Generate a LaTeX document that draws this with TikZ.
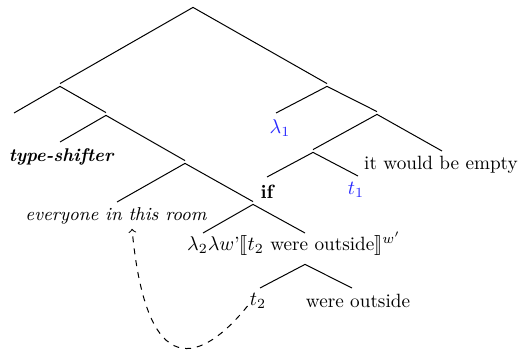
\documentclass[tikz,border=0pt]{standalone}
\usepackage{stmaryrd}
\usetikzlibrary{calc}
\definecolor{tblue}{RGB}{40,40,255}
\begin{document}
\begin{tikzpicture}[x=0.5pt,y=-0.5pt,
  edge/.style={line width=0.5pt},
  junc/.style={inner sep=0pt,minimum width=0pt,minimum height=1pt},
  lbl/.style={inner sep=0pt,font=\fontsize{9.6}{12}\selectfont},
  bluelbl/.style={lbl,text=tblue},
  move/.style={dashed,line width=0.5pt,->}]
\useasboundingbox (0,0) rectangle (518,356);
% internal nodes
\node[junc] (root) at (193,6) {};
\node[junc] (L1) at (60,85) {};
\node[junc] (L2) at (106,114) {};
\node[junc] (L3) at (185,162) {};
\node[junc] (L4) at (253,203) {};
\node[junc] (R1) at (327,85) {};
\node[junc] (R2) at (377,113) {};
\node[junc] (R3) at (313,151) {};
\node[junc] (N) at (305,263) {};
% leaf ends
\coordinate (LLe) at (14,113);
\coordinate (TSe) at (60,142);
\coordinate (EVe) at (117,202);
\coordinate (L4Le) at (203,233);
\coordinate (L4Re) at (305,233);
\coordinate (lam1e) at (276,113);
\coordinate (IWe) at (442,151);
\coordinate (ife) at (267,177);
\coordinate (t1e) at (358,176);
\coordinate (t2e) at (260,288);
\coordinate (WOe) at (352,288);
% labels
\node[lbl,font=\fontsize{9.2}{12}\selectfont\bfseries\itshape] (ts) at (61,157) {type-shifter};
\node[lbl,font=\fontsize{9.3}{12}\selectfont\itshape] (ev) at (116,216) {everyone in this room};
\node[lbl,font=\fontsize{9.6}{12}\selectfont\bfseries] (if) at (267,192) {if};
\node[bluelbl] (lam1) at (280,128) {$\lambda_1$};
\node[bluelbl] (t1) at (356,190) {$t_1$};
\node[lbl] (iw) at (441,165) {it would be empty};
\node[lbl] (lam2) at (294,244) {$\lambda_2\lambda w$'$\llbracket t_2$ were outside$\rrbracket^{w'}$};
\node[lbl] (t2) at (258,301) {$t_2$};
\node[lbl] (wo) at (358,301) {were outside};
% edges
\draw[edge] (root.south) -- (L1.north);
\draw[edge] (root.south) -- (R1.north);
\draw[edge] (L1.south) -- (LLe);
\draw[edge] (L1.south) -- (L2.north);
\draw[edge] (L2.south) -- (TSe);
\draw[edge] (L2.south) -- (L3.north);
\draw[edge] (L3.south) -- (EVe);
\draw[edge] (L3.south) -- (L4.north);
\draw[edge] (L4.south) -- (L4Le);
\draw[edge] (L4.south) -- (L4Re);
\draw[edge] (N.south) -- (t2e);
\draw[edge] (N.south) -- (WOe);
\draw[edge] (R1.south) -- (lam1e);
\draw[edge] (R1.south) -- (R2.north);
\draw[edge] (R2.south) -- (R3.north);
\draw[edge] (R2.south) -- (IWe);
\draw[edge] (R3.south) -- (ife);
\draw[edge] (R3.south) -- (t1e);
% movement arrow
\draw[move] ($(t2.south west)+(-2,-3)$) .. controls (212,350) and (148,400) .. ($(ev.south)+(16,4)$);
\end{tikzpicture}
\end{document}
